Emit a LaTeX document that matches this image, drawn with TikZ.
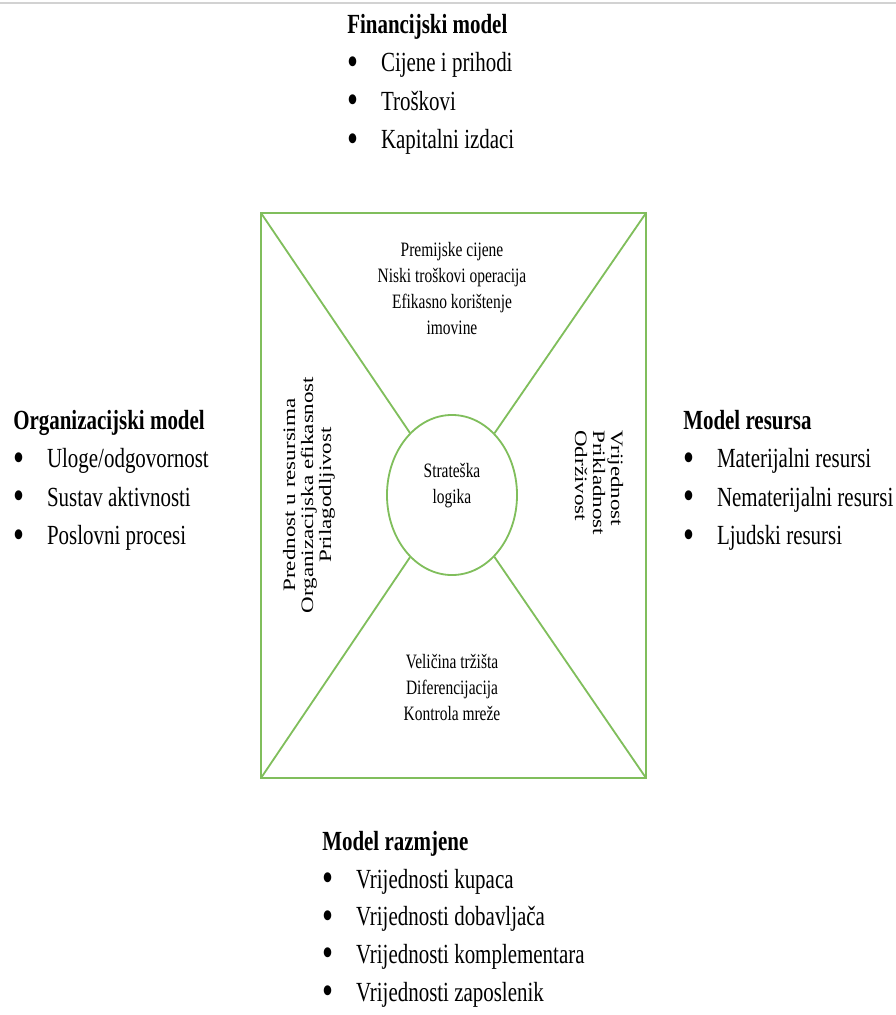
\documentclass[tikz,border=0pt]{standalone}
\usepackage{fontspec}
\setmainfont{Liberation Serif}
\usetikzlibrary{shapes.geometric}

\definecolor{lgreen}{RGB}{128,190,92}
\newcommand{\blt}{\makebox[24pt][l]{\raisebox{-0.12em}{\scalebox{1.5}{\textbullet}}}}

\begin{document}
\begin{tikzpicture}[x=0.025cm,y=-0.025cm,
  frame/.style={draw=lgreen, line width=1.3pt},
  blocktxt/.style={yscale=1.32, inner sep=0pt, align=left, anchor=north west, font=\fontsize{14.9}{20.7}\selectfont},
  midtxt/.style={yscale=1.32, inner sep=0pt, align=center, anchor=north, font=\fontsize{11}{14}\selectfont},
  sidetxt/.style={yscale=1.32, inner sep=0pt, align=center, font=\fontsize{12.4}{12.8}\selectfont}]
\useasboundingbox (0,0) rectangle (896,1015);
\draw[gray!35, line width=1.4pt] (0,3) -- (896,3);

% frame with the four diagonals
\coordinate (nw) at (261,213);
\coordinate (ne) at (646,213);
\coordinate (sw) at (261,778);
\coordinate (se) at (646,778);
\draw[frame] (nw) rectangle (se);
\node[ellipse, frame, minimum width=3.25cm, minimum height=4cm] (logic) at (452,495) {};
\foreach \c in {nw,ne,sw,se}
  \draw[frame] (\c) -- (logic);

% texts inside
\node[midtxt] (logicTxt) at (452,463) {Strateška\\ logika};
\node[midtxt] (finTxt) at (452,242) {Premijske cijene\\ Niski troškovi operacija\\ Efikasno korištenje\\ imovine};
\node[midtxt] (exTxt) at (452,654) {Veličina tržišta\\ Diferencijacija\\ Kontrola mreže};
\node[sidetxt, rotate=90] (orgTxt) at (309,495) {Prednost u resursima\\ Organizacijska efikasnost\\ Prilagodljivost};
\node[sidetxt, rotate=-90, align=left, anchor=west] (resTxt) at (599,430) {Vrijednost\\ Prikladnost\\ Održivost};

% the four models
\node[blocktxt] (fin) at (347,14) {\textbf{Financijski model}\\ \blt Cijene i prihodi\\ \blt Troškovi\\ \blt Kapitalni izdaci};
\node[blocktxt] (org) at (13,410) {\textbf{Organizacijski model}\\ \blt Uloge/odgovornost\\ \blt Sustav aktivnosti\\ \blt Poslovni procesi};
\node[blocktxt] (res) at (683,410) {\textbf{Model resursa}\\ \blt Materijalni resursi\\ \blt Nematerijalni resursi\\ \blt Ljudski resursi};
\node[blocktxt, font=\fontsize{14.9}{20.3}\selectfont] (ex) at (322,831) {\textbf{Model razmjene}\\ \blt Vrijednosti kupaca\\ \blt Vrijednosti dobavljača\\ \blt Vrijednosti komplementara\\ \blt Vrijednosti zaposlenik};
\end{tikzpicture}
\end{document}
